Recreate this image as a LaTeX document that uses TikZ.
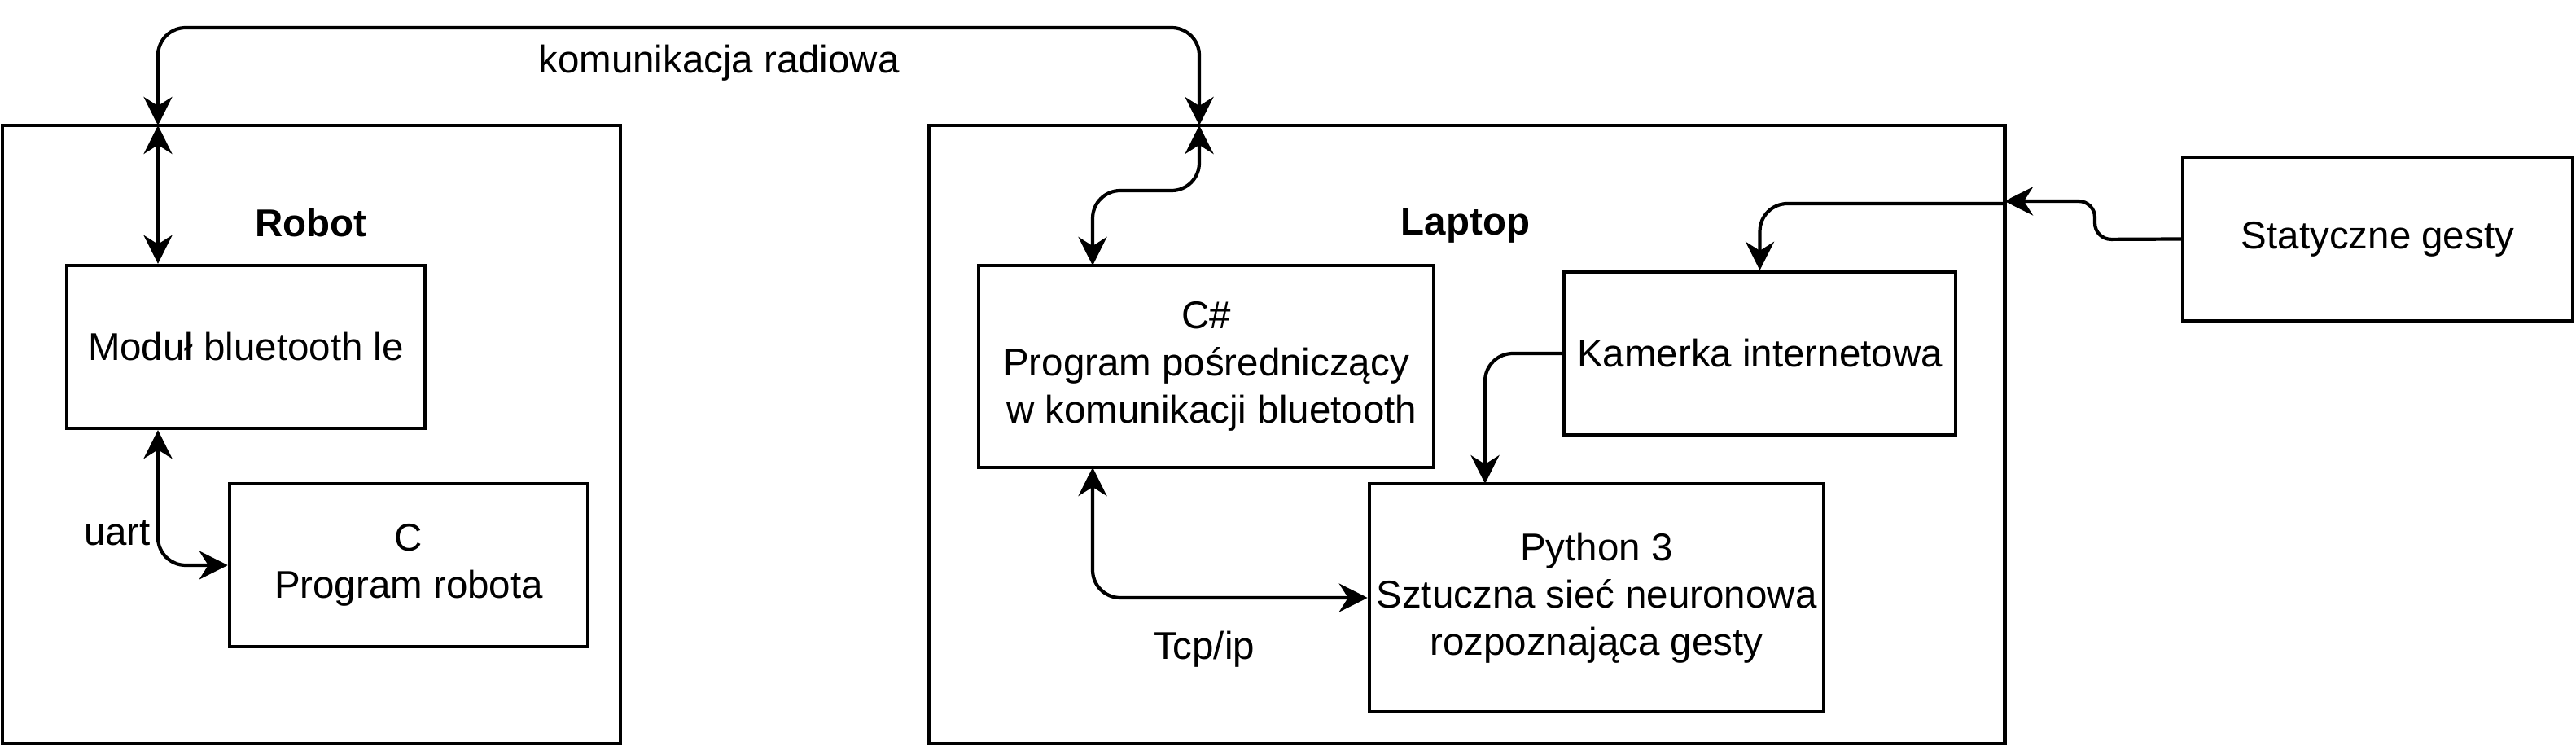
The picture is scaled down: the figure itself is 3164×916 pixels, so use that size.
\documentclass[tikz,border=0pt]{standalone}
\usepackage{fontspec}
\setmainfont{Liberation Sans}
\usetikzlibrary{arrows.meta}
\tikzset{
  box/.style={draw, line width=1.2pt, inner sep=0pt, align=center, font=\fontsize{13.5}{16.5}\selectfont},
  lbl/.style={inner sep=0pt, align=center, font=\fontsize{13.5}{16.5}\selectfont},
  ttl/.style={inner sep=0pt, font=\fontsize{13.5}{16.5}\selectfont\bfseries},
  conn/.style={line width=1.2pt, rounded corners=0.34cm},
  ctip/.tip={Stealth[length=3.5mm,width=3.5mm,inset=1.1mm]},
}
\begin{document}
\begin{tikzpicture}[x=0.01cm, y=-0.01cm]
\useasboundingbox (0,0) rectangle (3164,916);
% containers
\node[box, minimum width=7.59cm, minimum height=7.59cm] (robot) at (382.5,533.5) {};
\node[box, minimum width=13.21cm, minimum height=7.59cm] (laptop) at (1801.5,533.5) {};
% inner boxes
\node[box, minimum width=4.40cm, minimum height=2.00cm] (bt) at (302,426) {Moduł bluetooth le};
\node[box, minimum width=4.40cm, minimum height=2.00cm] (c) at (502,694) {C\\Program robota};
\node[box, minimum width=5.59cm, minimum height=2.48cm] (cs) at (1481.5,450) {C\#\\Program pośredniczący\\\mbox{\ }w komunikacji bluetooth};
\node[box, minimum width=5.58cm, minimum height=2.80cm] (py) at (1961,734) {Python 3\\Sztuczna sieć neuronowa\\rozpoznająca gesty};
\node[box, minimum width=4.81cm, minimum height=2.00cm] (kam) at (2161.5,434) {Kamerka internetowa};
\node[box, minimum width=4.79cm, minimum height=2.01cm] (stat) at (2920.5,293.5) {Statyczne gesty};
% labels
\node[ttl] (robotlbl) at (382,274) {Robot};
\node[ttl] (laptoplbl) at (1800,277) {Laptop};
\node[lbl] (radiolbl) at (883,77) {komunikacja radiowa};
\node[lbl] (uartlbl) at (144,654) {uart};
\node[lbl] (tcplbl) at (1479,797) {Tcp/ip};
% anchor coordinates on box edges
\coordinate (rtop) at (194,154);
\coordinate (ltop) at (1473,154);
\coordinate (radioY) at (0,34);
\coordinate (csTop) at (1342,326);
\coordinate (csBot) at (1342,574);
\coordinate (pyTop) at (1824,594);
\coordinate (lr) at (2462,247);
\coordinate (lr2) at (2462,250);
\coordinate (jog) at (2573,294);
% connectors
\draw[conn, ctip-ctip] (rtop) |- (radioY -| ltop) -- (ltop);
\draw[conn, ctip-ctip] (rtop) -- (rtop |- bt.north);
\draw[conn, ctip-ctip] (bt.south -| rtop) |- (c.west);
\draw[conn, ctip-ctip] (ltop) -- ++(0,80) -| (csTop);
\draw[conn, ctip-ctip] (csBot) |- (py.west);
\draw[conn, -ctip] (kam.west) -| (pyTop);
\draw[conn, rounded corners=0.2cm, -ctip] (stat.west) -- (jog) |- (lr);
\draw[conn, -ctip] (lr2) -| (kam.north);
\end{tikzpicture}
\end{document}
